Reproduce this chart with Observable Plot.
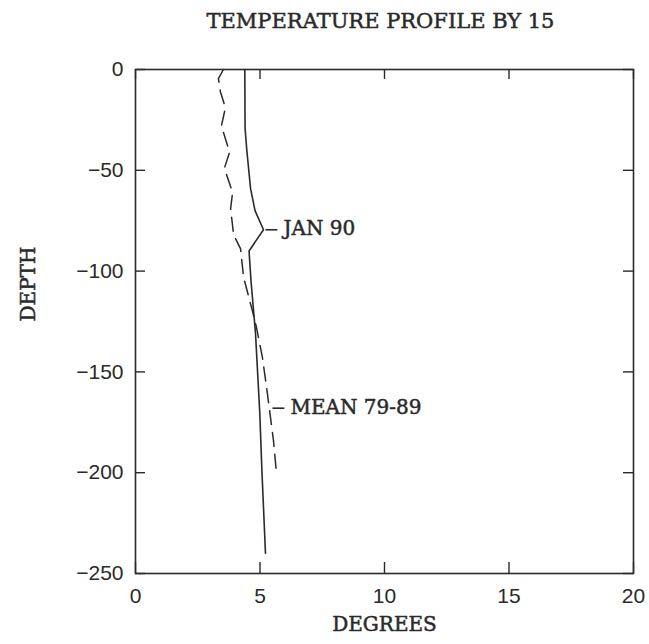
<!DOCTYPE html>
<html>
<head>
<meta charset="utf-8">
<script src="https://cdn.jsdelivr.net/npm/d3@7"></script>
<script src="https://cdn.jsdelivr.net/npm/@observablehq/plot@0.6"></script>
<style>
  html, body { margin: 0; padding: 0; background: #fff; }
  #wrap { width: 649px; height: 644px; position: relative; overflow: hidden; }
  #title { height: 42px; line-height: 42px; text-align: center; padding-left: 112px; box-sizing: border-box; width: 649px;
           font-family: "DejaVu Serif", serif; font-size: 21px; color: #2a2a2a; -webkit-text-stroke: 0.5px #2a2a2a; }
  svg { display: block; }
</style>
</head>
<body>
<div id="wrap">
  <div id="title"></div>
  <div id="chart"></div>
</div>
<script>
// ---- data ----
const titleText = "TEMPERATURE PROFILE BY 15";
const xLabel = "DEGREES";
const yLabel = "DEPTH";
const xTicks = [0, 5, 10, 15, 20];
const yTicks = [0, -50, -100, -150, -200, -250];

// JAN 90 profile (solid)
const janDepth = [0, -29, -40, -59, -70, -79.5, -90, -105, -131, -170, -200, -240];
const janTemp  = [4.39, 4.40, 4.47, 4.62, 4.80, 5.14, 4.56, 4.64, 4.82, 4.99, 5.08, 5.22];

// MEAN 79-89 profile (dashed)
const meanDepth = [0, -4.5, -11, -19, -28, -41, -49, -61, -69, -82, -89, -103, -120, -128, -143, -161, -184, -200];
const meanTemp  = [3.53, 3.33, 3.41, 3.61, 3.45, 3.78, 3.57, 3.90, 3.82, 3.94, 4.22, 4.34, 4.70, 4.86, 5.10, 5.30, 5.54, 5.66];

// curve labels: where they attach
const labelNames = ["JAN 90", "MEAN 79-89"];
const labelTemp  = [5.14, 5.42];
const labelDepth = [-79.5, -168];

// ---- build tables ----
const jan = janDepth.map((d, i) => ({depth: d, temp: janTemp[i]}));
const mean = meanDepth.map((d, i) => ({depth: d, temp: meanTemp[i]}));
const labels = labelNames.map((n, i) => ({name: n, temp: labelTemp[i], depth: labelDepth[i]}));

document.getElementById("title").textContent = titleText;

const ink = "#2a2a2a";
const serif = "DejaVu Serif, serif";
const sans = "Liberation Sans, Arial, sans-serif";

const W = 649, H = 602;
const mL = 135, mR = 16, mT = 27, mB = 71;
const frameH = H - mT - mB, frameW = W - mL - mR;

const chart = Plot.plot({
  width: W,
  height: H,
  marginLeft: mL, marginRight: mR, marginTop: mT, marginBottom: mB,
  style: {fontFamily: sans, color: ink, background: "#fff", overflow: "visible"},
  x: {domain: [0, 20]},
  y: {domain: [-250, 0]},
  marks: [
    Plot.axisX(xTicks, {tickSize: 0, tickPadding: 15, fontSize: 21, fontFamily: sans, label: null, fill: ink}),
    Plot.axisY(yTicks, {tickSize: 0, tickPadding: 12, fontSize: 21, fontFamily: sans, label: null, fill: ink}),
    // inward ticks on all four sides
    Plot.tickX(xTicks, {x: d => d, insetTop: frameH - 11, stroke: ink, strokeWidth: 1.4}),
    Plot.tickX(xTicks, {x: d => d, insetBottom: frameH - 10, stroke: ink, strokeWidth: 1.4}),
    Plot.tickY(yTicks, {y: d => d, insetRight: frameW - 10, stroke: ink, strokeWidth: 1.4}),
    Plot.tickY(yTicks, {y: d => d, insetLeft: frameW - 10, stroke: ink, strokeWidth: 1.4}),
    Plot.frame({stroke: ink, strokeWidth: 1.6}),
    // profiles
    Plot.line(jan, {x: "temp", y: "depth", stroke: ink, strokeWidth: 1.6}),
    Plot.line(mean, {x: "temp", y: "depth", stroke: ink, strokeWidth: 1.5, strokeDasharray: "14,8"}),
    // leader lines and labels
    Plot.link(labels, {x1: d => d.temp + 0.08, x2: d => d.temp + 0.56, y1: "depth", y2: "depth", stroke: ink, strokeWidth: 1.6}),
    Plot.text(labels, {x: d => d.temp + 0.56, y: "depth", text: "name", dx: 6, dy: -1, textAnchor: "start",
      fontFamily: serif, fontSize: 20, fill: ink, stroke: ink, strokeWidth: 0.5}),
    // axis titles
    Plot.text([xLabel], {text: d => d, frameAnchor: "bottom", dy: 57, fontFamily: serif, fontSize: 20, fill: ink, stroke: ink, strokeWidth: 0.5}),
    Plot.text([yLabel], {text: d => d, frameAnchor: "left", dx: -107, rotate: -90, fontFamily: serif, fontSize: 20, fill: ink, stroke: ink, strokeWidth: 0.5})
  ]
});
document.getElementById("chart").appendChild(chart);
</script>
</body>
</html>
